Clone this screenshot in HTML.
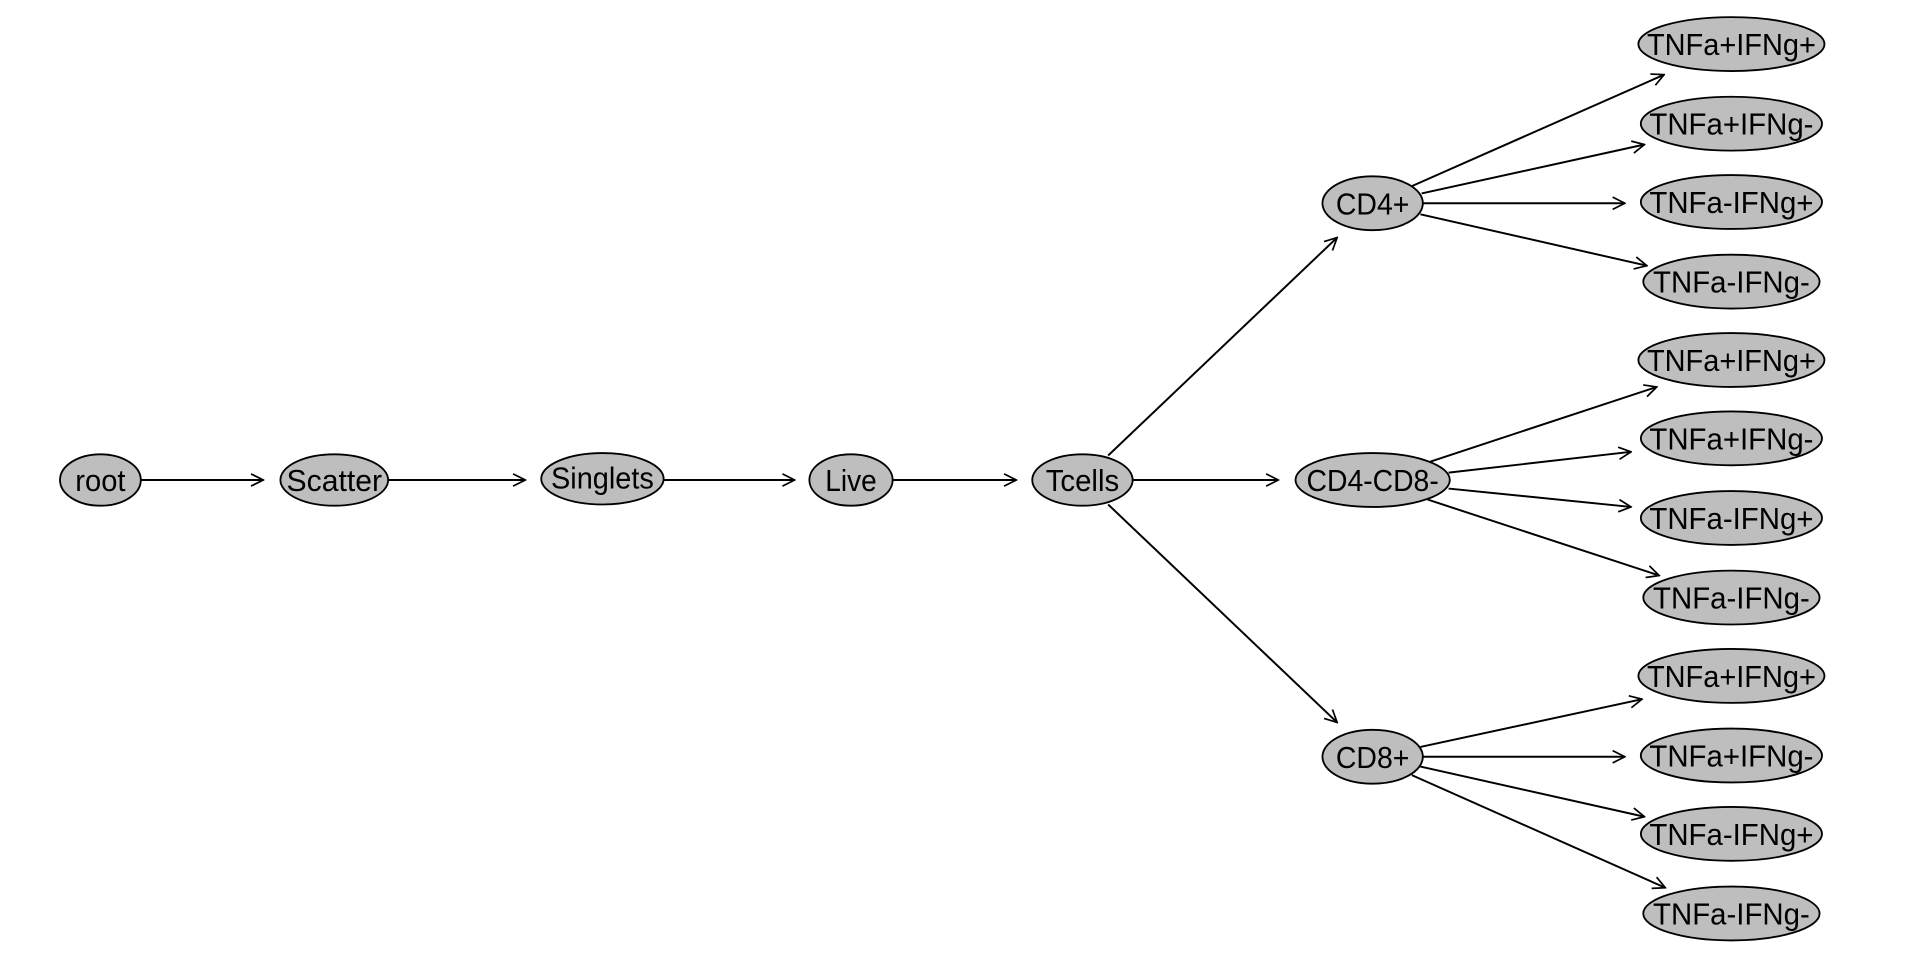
<!DOCTYPE html>
<html><head><meta charset="utf-8"><style>html,body{margin:0;padding:0;background:#fff;}svg{display:block}</style></head>
<body>
<svg width="1920" height="960" viewBox="0 0 1568 784" xmlns="http://www.w3.org/2000/svg">
<defs><marker id="a" markerWidth="12" markerHeight="12" refX="11" refY="6" orient="auto" markerUnits="userSpaceOnUse"><path d="M1,1 L11,6 L1,11" fill="none" stroke="#000" stroke-width="1.4"/></marker></defs>
<g stroke="#000" stroke-width="1.6" fill="none" marker-end="url(#a)">
<line x1="115" y1="392" x2="215" y2="392"/>
<line x1="317" y1="392" x2="429" y2="392"/>
<line x1="542" y1="392" x2="649" y2="392"/>
<line x1="729" y1="392" x2="830" y2="392"/>
<line x1="905" y1="372" x2="1092" y2="194"/>
<line x1="925" y1="392" x2="1044" y2="392"/>
<line x1="905" y1="412" x2="1092" y2="590"/>
<line x1="1153" y1="152" x2="1359" y2="61"/>
<line x1="1161" y1="158" x2="1343" y2="118"/>
<line x1="1162" y1="166" x2="1327" y2="166"/>
<line x1="1160" y1="175" x2="1345" y2="217"/>
<line x1="1168" y1="377" x2="1353" y2="316"/>
<line x1="1183" y1="386" x2="1332" y2="369"/>
<line x1="1183" y1="399" x2="1332" y2="414"/>
<line x1="1166" y1="408" x2="1355" y2="470"/>
<line x1="1160" y1="610" x2="1341" y2="571"/>
<line x1="1162" y1="618" x2="1327" y2="618"/>
<line x1="1160" y1="626" x2="1343" y2="667"/>
<line x1="1153" y1="633" x2="1360" y2="725"/>
</g>
<g fill="#bebebe" stroke="#000" stroke-width="1.5">
<ellipse cx="82" cy="392" rx="33" ry="21"/>
<ellipse cx="273" cy="392" rx="44" ry="21"/>
<ellipse cx="492" cy="391" rx="50" ry="21"/>
<ellipse cx="695" cy="392" rx="34" ry="21"/>
<ellipse cx="884" cy="392" rx="41" ry="21"/>
<ellipse cx="1121" cy="166" rx="41" ry="22"/>
<ellipse cx="1121" cy="392" rx="63" ry="22"/>
<ellipse cx="1121" cy="618" rx="41" ry="22"/>
<ellipse cx="1414" cy="36" rx="76" ry="22"/>
<ellipse cx="1414" cy="101" rx="74" ry="22"/>
<ellipse cx="1414" cy="165" rx="74" ry="22"/>
<ellipse cx="1414" cy="230" rx="72" ry="22"/>
<ellipse cx="1414" cy="294" rx="76" ry="22"/>
<ellipse cx="1414" cy="358" rx="74" ry="22"/>
<ellipse cx="1414" cy="423" rx="74" ry="22"/>
<ellipse cx="1414" cy="488" rx="72" ry="22"/>
<ellipse cx="1414" cy="552" rx="76" ry="22"/>
<ellipse cx="1414" cy="617" rx="74" ry="22"/>
<ellipse cx="1414" cy="681" rx="74" ry="22"/>
<ellipse cx="1414" cy="746" rx="72" ry="22"/>
</g>
<g font-family="Liberation Sans, sans-serif" font-size="25" text-anchor="middle" fill="#000">
<text x="82" y="401" textLength="41" lengthAdjust="spacingAndGlyphs">root</text>
<text x="273" y="401" textLength="78" lengthAdjust="spacingAndGlyphs">Scatter</text>
<text x="492" y="399" textLength="84" lengthAdjust="spacingAndGlyphs">Singlets</text>
<text x="695" y="401" textLength="42" lengthAdjust="spacingAndGlyphs">Live</text>
<text x="884" y="401" textLength="60" lengthAdjust="spacingAndGlyphs">Tcells</text>
<text x="1121" y="175" textLength="60" lengthAdjust="spacingAndGlyphs">CD4+</text>
<text x="1121" y="401" textLength="108" lengthAdjust="spacingAndGlyphs">CD4-CD8-</text>
<text x="1121" y="627" textLength="60" lengthAdjust="spacingAndGlyphs">CD8+</text>
<text x="1414" y="45" textLength="138" lengthAdjust="spacingAndGlyphs">TNFa+IFNg+</text>
<text x="1414" y="110" textLength="134" lengthAdjust="spacingAndGlyphs">TNFa+IFNg-</text>
<text x="1414" y="174" textLength="134" lengthAdjust="spacingAndGlyphs">TNFa-IFNg+</text>
<text x="1414" y="239" textLength="128" lengthAdjust="spacingAndGlyphs">TNFa-IFNg-</text>
<text x="1414" y="303" textLength="138" lengthAdjust="spacingAndGlyphs">TNFa+IFNg+</text>
<text x="1414" y="367" textLength="134" lengthAdjust="spacingAndGlyphs">TNFa+IFNg-</text>
<text x="1414" y="432" textLength="134" lengthAdjust="spacingAndGlyphs">TNFa-IFNg+</text>
<text x="1414" y="497" textLength="128" lengthAdjust="spacingAndGlyphs">TNFa-IFNg-</text>
<text x="1414" y="561" textLength="138" lengthAdjust="spacingAndGlyphs">TNFa+IFNg+</text>
<text x="1414" y="626" textLength="134" lengthAdjust="spacingAndGlyphs">TNFa+IFNg-</text>
<text x="1414" y="690" textLength="134" lengthAdjust="spacingAndGlyphs">TNFa-IFNg+</text>
<text x="1414" y="755" textLength="128" lengthAdjust="spacingAndGlyphs">TNFa-IFNg-</text>
</g>
</svg>
</body></html>
